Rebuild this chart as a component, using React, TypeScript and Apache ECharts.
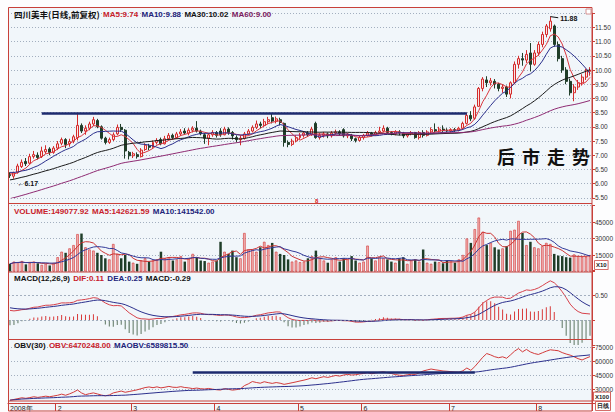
import React, { useEffect, useRef } from 'react';
import * as echarts from 'echarts';

// ---------- data ----------
const months = [
  { label: '2008年', days: 12 },
  { label: '2', days: 19 },
  { label: '3', days: 21 },
  { label: '4', days: 21 },
  { label: '5', days: 16 },
  { label: '6', days: 22 },
  { label: '7', days: 22 },
  { label: '8', days: 14 },
];

// closes of the 60 sessions before the visible window (needed by MA30/MA60/MACD)
const preCloses = [
  4.32, 4.28, 4.35, 4.40, 4.38, 4.45, 4.50, 4.48, 4.55, 4.60, 4.58, 4.65, 4.72, 4.68, 4.75,
  4.80, 4.78, 4.85, 4.90, 4.88, 4.95, 5.00, 4.98, 5.05, 5.10, 5.08, 5.15, 5.20, 5.28, 5.40,
  5.60, 5.65, 5.62, 5.70, 5.78, 5.75, 5.82, 5.90, 5.88, 5.95, 6.02, 6.00, 6.08, 6.15, 6.10,
  6.18, 6.25, 6.20, 6.28, 6.35, 6.30, 6.38, 6.45, 6.40, 6.48, 6.50, 6.42, 6.38, 6.35, 6.30,
];

// [open, close, low, high]
const ohlc: number[][] = [
  [6.32, 6.28, 6.20, 6.40], [6.26, 6.38, 6.17, 6.42], [6.40, 6.62, 6.35, 6.70], [6.60, 6.75, 6.55, 6.85],
  [6.78, 6.70, 6.62, 6.90], [6.72, 6.95, 6.68, 7.05], [6.95, 7.02, 6.88, 7.15], [7.00, 6.92, 6.85, 7.10],
  [6.95, 7.15, 6.90, 7.30], [7.12, 7.20, 7.05, 7.35], [7.22, 7.10, 7.00, 7.28], [7.10, 7.25, 7.05, 7.32],
  [7.25, 7.40, 7.18, 7.50], [7.42, 7.55, 7.35, 7.62], [7.55, 7.38, 7.25, 7.60], [7.40, 7.48, 7.30, 7.58],
  [7.50, 7.65, 7.42, 7.72], [7.62, 8.05, 7.52, 8.49], [8.05, 7.85, 7.78, 8.12], [7.85, 7.95, 7.72, 8.05],
  [7.95, 8.10, 7.88, 8.18], [8.10, 8.25, 8.02, 8.35], [8.22, 8.00, 7.95, 8.28], [8.00, 7.60, 7.55, 8.05],
  [7.60, 7.45, 7.38, 7.65], [7.45, 7.55, 7.40, 7.62], [7.55, 7.72, 7.50, 7.80], [7.75, 7.98, 7.70, 8.08],
  [7.98, 7.90, 7.82, 8.10], [7.88, 7.15, 6.88, 7.92], [7.10, 6.98, 6.85, 7.15], [6.98, 7.05, 6.90, 7.12],
  [7.02, 6.95, 6.88, 7.10], [6.95, 7.18, 6.92, 7.25], [7.20, 7.35, 7.15, 7.42], [7.32, 7.28, 7.18, 7.40],
  [7.28, 7.45, 7.22, 7.52], [7.45, 7.52, 7.38, 7.60], [7.55, 7.40, 7.35, 7.62], [7.40, 7.58, 7.38, 7.68],
  [7.58, 7.70, 7.52, 7.78], [7.70, 7.62, 7.55, 7.76], [7.62, 7.75, 7.58, 7.82], [7.75, 7.82, 7.68, 7.92],
  [7.85, 7.78, 7.72, 7.95], [7.78, 7.88, 7.70, 7.95], [7.88, 7.95, 7.80, 8.02], [7.95, 7.85, 7.80, 8.20],
  [7.85, 7.75, 7.70, 7.90], [7.72, 7.60, 7.40, 7.78], [7.60, 7.72, 7.35, 7.78], [7.72, 7.80, 7.65, 7.88],
  [7.80, 7.70, 7.62, 7.85], [7.85, 7.72, 7.65, 7.95], [7.72, 7.92, 7.70, 8.00], [7.92, 7.80, 7.72, 7.98],
  [7.80, 7.68, 7.55, 7.85], [7.62, 7.55, 7.45, 7.70], [7.55, 7.60, 7.35, 7.70], [7.60, 7.75, 7.55, 7.82],
  [7.75, 7.85, 7.70, 7.92], [7.85, 7.98, 7.80, 8.05], [7.98, 8.10, 7.92, 8.22], [8.10, 8.05, 7.95, 8.18],
  [8.05, 8.18, 8.00, 8.28], [8.18, 8.25, 8.10, 8.35], [8.32, 8.20, 8.12, 8.45], [8.20, 8.28, 8.12, 8.36],
  [8.25, 8.15, 8.05, 8.32], [8.12, 7.45, 7.30, 8.15], [7.45, 7.38, 7.28, 7.52], [7.38, 7.50, 7.32, 7.58],
  [7.50, 7.62, 7.45, 7.70], [7.62, 7.70, 7.55, 7.78], [7.70, 7.78, 7.62, 7.85], [7.78, 7.72, 7.65, 7.85],
  [7.72, 7.92, 7.68, 8.00], [8.12, 7.62, 7.58, 8.18], [7.62, 7.70, 7.55, 7.78], [7.70, 7.75, 7.62, 7.82],
  [7.75, 7.68, 7.60, 7.80], [7.68, 7.78, 7.62, 7.85], [7.78, 7.82, 7.72, 7.90], [7.82, 7.75, 7.68, 7.88],
  [7.90, 7.68, 7.62, 7.95], [7.68, 7.72, 7.60, 7.78], [7.70, 7.58, 7.50, 7.75], [7.58, 7.52, 7.45, 7.62],
  [7.52, 7.62, 7.48, 7.68], [7.62, 7.70, 7.55, 7.75], [7.70, 7.78, 7.65, 7.85], [7.78, 7.72, 7.66, 7.82],
  [7.72, 7.80, 7.68, 7.86], [7.80, 7.85, 7.75, 8.00], [7.85, 7.95, 7.80, 8.05], [7.95, 7.80, 7.75, 8.00],
  [7.80, 7.75, 7.70, 7.85], [7.75, 7.82, 7.70, 7.88], [7.82, 7.78, 7.70, 7.88], [7.78, 7.68, 7.60, 7.82],
  [7.68, 7.75, 7.62, 7.80], [7.75, 7.80, 7.70, 7.85], [7.80, 7.62, 7.58, 7.82], [7.62, 7.80, 7.55, 7.85],
  [7.80, 7.70, 7.62, 7.88], [7.70, 7.82, 7.66, 7.88], [7.82, 7.90, 7.78, 7.98], [7.90, 7.85, 7.80, 8.12],
  [7.85, 7.92, 7.80, 8.00], [7.92, 7.88, 7.82, 8.05], [7.88, 7.85, 7.80, 7.95], [7.85, 7.90, 7.80, 7.95],
  [7.90, 7.88, 7.82, 7.96], [7.88, 7.95, 7.84, 8.00], [7.95, 8.12, 7.90, 8.18], [8.12, 8.40, 8.08, 8.50],
  [8.40, 8.28, 8.20, 8.55], [8.30, 8.70, 8.25, 8.78], [8.72, 9.35, 8.70, 9.40], [9.35, 9.68, 9.25, 9.75],
  [9.65, 9.55, 9.40, 9.78], [9.55, 9.62, 9.45, 9.72], [9.60, 9.50, 9.35, 9.68], [9.50, 9.35, 9.25, 9.55],
  [9.35, 9.40, 9.20, 9.50], [9.40, 9.15, 9.05, 9.45], [9.15, 9.55, 9.00, 9.60], [9.55, 10.20, 9.50, 10.30],
  [10.20, 10.40, 10.05, 10.50], [10.40, 10.35, 10.15, 10.60], [10.35, 10.55, 10.25, 10.70], [10.60, 10.20, 9.95, 10.95],
  [10.20, 10.60, 10.15, 10.70], [10.60, 10.90, 10.50, 11.00], [10.90, 11.25, 10.80, 11.35], [11.25, 11.55, 11.15, 11.62],
  [11.45, 11.72, 11.35, 11.88], [11.55, 10.90, 10.82, 11.60], [10.90, 10.40, 10.30, 11.00], [10.40, 10.00, 9.90, 10.50],
  [10.00, 9.60, 9.50, 10.10], [9.60, 9.20, 9.10, 9.70], [9.20, 9.40, 8.90, 9.50], [9.40, 9.55, 9.30, 9.65],
  [9.55, 9.75, 9.45, 9.85], [9.75, 10.00, 9.65, 10.05], [9.95, 10.00, 9.80, 10.10],
];

// volume, in units of 10
const volumes = [
  7000, 9000, 8500, 9500, 6500, 8000, 9000, 7500, 6000, 7000, 5500, 8000,
  13000, 18000, 17000, 21000, 24000, 34000, 34500,
  22000, 20000, 19000, 17000, 15000, 12000, 11000, 25000, 16000,
  12000, 15000, 9000, 8000, 7000, 10000, 12000, 9000,
  10000, 11000, 18000, 12000, 13000, 10000, 11000, 14000, 9000, 12000, 16000, 13000, 10000, 9500, 8000,
  9000, 10000, 27000, 18000, 16000, 19000, 13000, 12000, 35000, 20000,
  20000, 18000, 22000, 27000, 24000, 26000, 18000, 16000,
  15000, 11000, 9000, 10000, 8500, 9000, 12000, 14000,
  19000, 12000, 10000, 8000, 11000, 13000, 9000, 12000, 11000, 14000, 10000, 8000,
  9000, 23500, 12000, 10000, 13000, 12000, 11000, 9000, 8000, 12000, 13000, 7000, 10000, 11000, 9000, 20000,
  8000, 7000, 9000, 8500, 7500, 10000,
  9000, 8000, 11000, 15000, 30000, 26000, 38500, 49000, 36000,
  24000, 26000, 22000, 20000, 21000, 23000, 37000, 38000, 46000, 35000,
  24000, 27000, 22000, 21000, 23000, 26000, 25000,
  16000, 14500, 14000, 13000, 12600, 15500, 14000, 13500, 13500, 14908,
];

// OBV, in units of 100
const obv = [
  18000, 18800, 19700, 20600, 20000, 20800, 21700, 21000, 21600, 22300, 21700, 22500,
  23300, 24500, 23300, 24800, 26600, 28900, 25800,
  23900, 25000, 25800, 24700, 23500, 22700, 23600, 25800, 26800,
  27800, 26500, 27300, 28200, 29100, 30300, 31500, 32200,
  31400, 32300, 31200, 31900, 32800, 31900, 31700, 32500, 31600, 31200, 30400, 31000, 30300, 30000, 30600,
  29800, 29200, 28900, 30400, 29600, 28800, 29300, 30100, 33600, 35500,
  38000, 37000, 36200, 37800, 36800, 36000, 36900, 36200,
  35000, 35800, 36700, 37600, 38600, 39500, 40600, 42000,
  41000, 42200, 43200, 42400, 43500, 44500, 43800, 45000, 45600, 45000, 45300, 46100,
  46600, 47500, 46300, 47100, 47900, 48500, 47400, 46600, 45500, 44800, 44500, 45200, 45800, 45600, 47200, 49300,
  50400, 51400, 50600, 50000, 49300, 49000,
  48600, 48200, 48000, 49500, 52500, 50000, 54000, 59000, 64000,
  68000, 66500, 64600, 63500, 64500, 62900, 66600, 70500, 73300, 69800,
  72400, 69700, 68000, 67000, 68800, 70500, 72000,
  71500, 71000, 69000, 67500, 66300, 64500, 62500, 61100, 63000, 64700,
];

const priceAxis = { min: 5.5, max: 12, step: 0.5 };
const volAxis = { min: 0, max: 60000, step: 15000 };
const macdAxis = { min: -0.5, max: 1, step: 0.5 };
const obvAxis = { min: 15000, max: 75000, step: 15000 };

const resistance = { price: 8.49, from: 8, to: 115 };
const obvLevel = { value: 48000, from: 46, to: 117 };
const peak = { index: 136, price: 11.88 };
const trough = { index: 1, price: 6.17 };

// ---------- derived ----------
const categories: string[] = [];
const monthLabelAt: Record<number, string> = {};
months.forEach((m, mi) => {
  monthLabelAt[categories.length] = m.label;
  for (let d = 0; d < m.days; d++) categories.push(`${mi + 1}-${d + 1}`);
});
const isMonthStart = (i: number) => monthLabelAt[i] !== undefined;

const closes = ohlc.map((r) => r[1]);
const allCloses = [...preCloses, ...closes];
const P = preCloses.length;
const maClose = (n: number) =>
  closes.map((_, i) => {
    const j = P + i;
    let s = 0;
    for (let k = j - n + 1; k <= j; k++) s += allCloses[k];
    return +(s / n).toFixed(3);
  });
const maPartial = (arr: number[], n: number) =>
  arr.map((_, i) => {
    const st = Math.max(0, i - n + 1);
    let s = 0;
    for (let k = st; k <= i; k++) s += arr[k];
    return +(s / (i - st + 1)).toFixed(2);
  });
const ema = (arr: number[], n: number) => {
  const a = 2 / (n + 1);
  const out: number[] = [];
  let e = arr[0];
  arr.forEach((v, i) => {
    e = i === 0 ? v : a * v + (1 - a) * e;
    out.push(e);
  });
  return out;
};
const e12 = ema(allCloses, 12);
const e26 = ema(allCloses, 26);
const difAll = allCloses.map((_, i) => e12[i] - e26[i]);
const deaAll = ema(difAll, 9);
const dif = difAll.slice(P).map((v) => +v.toFixed(4));
const dea = deaAll.slice(P).map((v) => +v.toFixed(4));
const macdHist = dif.map((d, i) => +(2 * (d - dea[i])).toFixed(4));

// ---------- style ----------
const RED = '#c8403a';
const UP = '#d42b2b';
const UPFILL = '#fbe4e4';
const DOWN = '#1f3d28';
const NAVY = '#2b2f8c';
const PURPLE = '#8e2a72';
const GRIDC = '#8f9db0';
const FONT = 'Liberation Sans, Arial, sans-serif';
const L = 8;
const R = 23;

function buildOption(): any {
  const gridDefs = [
    { top: 13.2, height: 184.6 },
    { top: 205.5, height: 66 },
    { top: 270, height: 75 },
    { top: 347, height: 56 },
  ];
  const grid = gridDefs.map((g) => ({ left: L, right: R, top: g.top, height: g.height, outerBoundsMode: 'none' }));

  const xAxis = gridDefs.map((_, gi) => ({
    type: 'category',
    gridIndex: gi,
    data: categories,
    boundaryGap: true,
    show: gi === 3,
    axisLine: { show: true, lineStyle: { color: RED } },
    axisTick: { show: true, interval: (i: number) => isMonthStart(i), length: 8, lineStyle: { color: RED } },
    axisLabel: {
      show: true,
      interval: (i: number) => isMonthStart(i),
      formatter: (_v: string, i: number) => monthLabelAt[i] ?? '',
      fontSize: 7,
      color: '#222',
      align: 'left',
      margin: 2,
      fontFamily: FONT,
    },
    splitLine: { show: false },
  }));

  const yBase = (gi: number, ax: { min: number; max: number; step: number }, fmt: (v: number) => string, split: boolean) => ({
    type: 'value',
    gridIndex: gi,
    position: 'right',
    min: ax.min,
    max: ax.max,
    interval: ax.step,
    axisLine: { show: true, lineStyle: { color: RED } },
    axisTick: { show: true, length: 3, lineStyle: { color: RED } },
    axisLabel: { fontSize: 6.5, color: '#333', margin: 3, fontFamily: FONT, formatter: fmt, showMinLabel: true, showMaxLabel: true },
    splitLine: { show: split, lineStyle: { color: GRIDC, type: [1, 2], width: 0.8 } },
  });

  const yAxis = [
    yBase(0, priceAxis, (v) => (v >= 11.99 ? '' : v.toFixed(2)), true),
    yBase(1, volAxis, (v) => (v <= 0 || v >= 60000 ? '' : String(v)), true),
    yBase(2, macdAxis, (v) => (Math.abs(v - 0.5) < 1e-6 ? '0.50' : ''), false),
    yBase(3, obvAxis, (v) => (v <= 15000 ? '' : String(v)), true),
  ];

  const line = (name: string, data: number[], color: string, gi: number, extra: any = {}) => ({
    name,
    type: 'line',
    xAxisIndex: gi,
    yAxisIndex: gi,
    data,
    symbol: 'none',
    showSymbol: false,
    lineStyle: { width: 1, color },
    itemStyle: { color },
    z: 4,
    ...extra,
  });

  const series: any[] = [
    {
      name: 'K',
      type: 'candlestick',
      xAxisIndex: 0,
      yAxisIndex: 0,
      data: ohlc,
      barWidth: '62%',
      itemStyle: { color: UPFILL, color0: DOWN, borderColor: UP, borderColor0: DOWN, borderWidth: 1 },
      markLine: {
        symbol: ['none', 'none'],
        silent: true,
        animation: false,
        data: [
          [
            { coord: [categories[resistance.from], resistance.price], lineStyle: { color: '#1c2a6e', width: 2.5, type: 'solid' }, label: { show: false } },
            { coord: [categories[resistance.to], resistance.price] },
          ],
          [
            { coord: [categories[peak.index], peak.price], lineStyle: { color: '#111', width: 1, type: 'solid' }, label: { show: true, position: 'end', formatter: String(peak.price.toFixed(2)), fontSize: 7, fontWeight: 'bold', color: '#111', distance: 2 } },
            { coord: [categories[peak.index + 2], peak.price - 0.04] },
          ],
        ],
      },
      markPoint: {
        animation: false,
        data: [
          {
            coord: [categories[trough.index], trough.price],
            symbol: 'circle',
            symbolSize: 1,
            itemStyle: { color: 'rgba(0,0,0,0)' },
            label: { show: true, position: 'right', offset: [-2, 5], formatter: '←' + trough.price.toFixed(2), fontSize: 7, fontWeight: 'bold', color: '#111' },
          },
        ],
      },
      z: 3,
    },
    line('MA5', maClose(5), '#d9363e', 0),
    line('MA10', maClose(10), NAVY, 0),
    line('MA30', maClose(30), '#1a1a1a', 0),
    line('MA60', maClose(60), PURPLE, 0),
    {
      name: 'VOL',
      type: 'bar',
      xAxisIndex: 1,
      yAxisIndex: 1,
      barWidth: '62%',
      data: volumes.map((v, i) => ({
        value: v,
        itemStyle: ohlc[i][1] >= ohlc[i][0]
          ? { color: '#f2b4b4', borderColor: '#d23030', borderWidth: 0.6 }
          : { color: DOWN, borderColor: DOWN, borderWidth: 0 },
      })),
      z: 2,
    },
    line('VMA5', maPartial(volumes, 5), '#cc3333', 1),
    line('VMA10', maPartial(volumes, 10), '#333a99', 1),
    {
      name: 'MACD',
      type: 'bar',
      xAxisIndex: 2,
      yAxisIndex: 2,
      barWidth: 1,
      data: macdHist.map((v) => ({ value: v, itemStyle: { color: v >= 0 ? '#d83a3a' : '#5c7561' } })),
      z: 2,
    },
    line('DIF', dif, '#d6404a', 2),
    line('DEA', dea, NAVY, 2, {
      markLine: {
        symbol: ['none', 'none'],
        silent: true,
        animation: false,
        label: { show: false },
        lineStyle: { color: GRIDC, type: [2, 2], width: 0.8 },
        data: [{ yAxis: 0 }, { yAxis: 0.5 }],
      },
    }),
    line('OBV', obv, '#d23a3a', 3),
    line('MAOBV', maPartial(obv, 30), NAVY, 3, {
      markLine: {
        symbol: ['none', 'none'],
        silent: true,
        animation: false,
        data: [
          [
            { coord: [categories[obvLevel.from], obvLevel.value], lineStyle: { color: '#1c2a6e', width: 2.5, type: 'solid' }, label: { show: false } },
            { coord: [categories[obvLevel.to], obvLevel.value] },
          ],
        ],
      },
    }),
  ];

  const hdr = (y: number, text: string) => ({
    type: 'text',
    z: 120,
    x: 14,
    y,
    silent: true,
    style: {
      text,
      verticalAlign: 'middle',
      rich: {
        k: { fontSize: 8.5, fontWeight: 'bold', fill: '#111', fontFamily: 'Noto Sans CJK SC' },
        b: { fontSize: 8, fontWeight: 'bold', fill: '#111', fontFamily: FONT },
        r: { fontSize: 8, fontWeight: 'bold', fill: '#c8202a', fontFamily: FONT },
        n: { fontSize: 8, fontWeight: 'bold', fill: '#22237a', fontFamily: FONT },
        p: { fontSize: 8, fontWeight: 'bold', fill: '#7a1a60', fontFamily: FONT },
      },
    },
  });

  const boxLabel = (x: number, y: number, text: string) => ({
    type: 'text',
    z: 120,
    x,
    y,
    silent: true,
    style: {
      text,
      fontSize: 6,
      fontWeight: 'bold',
      fill: '#222',
      fontFamily: FONT,
      verticalAlign: 'middle',
      backgroundColor: '#fff',
      borderColor: RED,
      borderWidth: 0.8,
      padding: [1, 1],
    },
  });

  const bigChars = ['后', '市', '走', '势'];

  const graphic: any[] = [
    { type: 'rect', z: -10, silent: true, shape: { x: 8, y: 7, width: 584, height: 404 }, style: { fill: '#f1f6fa' } },
    { type: 'rect', z: 110, silent: true, shape: { x: 8.5, y: 7.5, width: 583.5, height: 403.5 }, style: { fill: 'none', stroke: RED, lineWidth: 1 } },
    ...[203.5, 272, 339.5, 401].map((y) => ({
      type: 'line', z: 110, silent: true, shape: { x1: 8, y1: y, x2: 592, y2: y }, style: { stroke: RED, lineWidth: 1 },
    })),
    hdr(14, '{k|四川美丰(日线,前复权)} {r|MA5:9.74} {n|MA10:9.88} {b|MA30:10.02} {p|MA60:9.00}'),
    hdr(211, '{r|VOLUME:149077.92} {r|MA5:142621.59} {n|MA10:141542.00}'),
    hdr(278.5, '{b|MACD(12,26,9)} {r|DIF:0.11} {n|DEA:0.25} {b|MACD:-0.29}'),
    hdr(345.5, '{b|OBV(30)} {r|OBV:6470248.00} {n|MAOBV:6589815.50}'),
    ...bigChars.map((c, k) => ({
      type: 'text', z: 120, x: 497 + k * 25, y: 156, silent: true,
      style: { text: c, fontSize: 18, fontWeight: 'bold', fill: '#111', fontFamily: 'Noto Sans CJK SC', verticalAlign: 'middle' },
    })),
    boxLabel(595, 265, 'X10'),
    boxLabel(594, 396.5, 'X100'),
    boxLabel(596, 406, '日线'),
    { type: 'text', z: 120, x: 315, y: 201, silent: true, style: { text: '8', fontSize: 6, fontWeight: 'bold', fill: '#d22', fontFamily: FONT, verticalAlign: 'middle' } },
    { type: 'rect', z: 120, silent: true, shape: { x: 586, y: 9, width: 5, height: 5 }, style: { fill: '#fff', stroke: '#c77', lineWidth: 0.8 } },
  ];

  return {
    animation: false,
    backgroundColor: '#fdfdfe',
    textStyle: { fontFamily: FONT },
    grid,
    xAxis,
    yAxis,
    series,
    graphic,
  };
}

export default function App() {
  const ref = useRef<HTMLDivElement>(null);
  useEffect(() => {
    if (!ref.current) return;
    const chart = echarts.init(ref.current, null, { renderer: 'svg' });
    chart.setOption(buildOption());
    return () => chart.dispose();
  }, []);
  return (
    <div
      ref={ref}
      style={{ position: 'fixed', left: 0, top: 0, width: 615, height: 412, background: '#fff' }}
    />
  );
}
